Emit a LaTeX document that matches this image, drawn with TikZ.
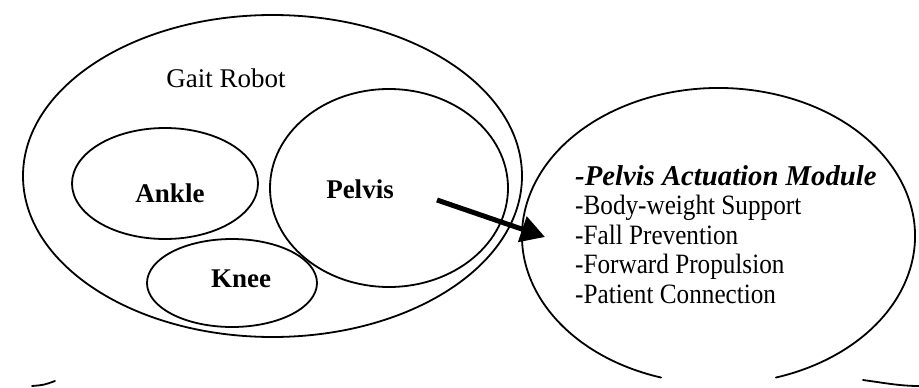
\documentclass[tikz,border=0pt]{standalone}
\usepackage{fontspec}
\setmainfont{Liberation Serif}
\newfontfamily\listfont[FakeStretch=0.9]{Liberation Serif}
\usetikzlibrary{shapes.geometric,arrows.meta}
\begin{document}
\begin{tikzpicture}[x=1pt,y=-1pt,
  ell/.style={draw, ellipse, line width=1.8pt, inner sep=0pt, outer sep=0pt},
  stroke/.style={line width=1.8pt, line cap=round},
  txt/.style={inner sep=0pt, anchor=base, font=\fontsize{27}{28}\selectfont},
  bld/.style={inner sep=0pt, anchor=base, font=\fontsize{27}{28}\selectfont\bfseries},
  item/.style={inner sep=0pt, anchor=base west, font=\listfont\fontsize{28}{29}\selectfont},
  bigarrow/.style={line width=5pt, -{Triangle[length=24pt,width=26pt]}}]
\useasboundingbox (0,0) rectangle (919,388);
\fill[white] (0,0) rectangle (919,388);

% ellipses of the gait robot
\node[ell, minimum width=499pt, minimum height=322pt] (gait) at (272.5,176) {};
\node[ell, minimum width=238pt, minimum height=198pt] (pelvis) at (389,188) {};
\node[ell, minimum width=186pt, minimum height=111pt] (ankle) at (165,183.5) {};
\node[ell, minimum width=170pt, minimum height=88pt] (knee) at (232,283) {};

% labels
\node[txt] (tgait) at (226,87) {Gait Robot};
\node[bld] (tankle) at (170,202) {Ankle};
\node[bld] (tpelvis) at (360,198) {Pelvis};
\node[bld] (tknee) at (241,287) {Knee};

% open bubble on the right
\node[draw=none, ellipse, inner sep=0pt, minimum width=393pt, minimum height=296pt] (bubble) at (718.5,236) {};
\draw[stroke] ([shift={(107:196.5 and 148)}]bubble.center) arc[start angle=107, end angle=433, x radius=196.5, y radius=148];

% list
\node[item, font=\fontsize{28.7}{29}\selectfont\bfseries\itshape] (l1) at (575,185) {-Pelvis Actuation Module};
\node[item] (l2) at (575,214.5) {-Body-weight Support};
\node[item] (l3) at (575,244) {-Fall Prevention};
\node[item] (l4) at (575,273.5) {-Forward Propulsion};
\node[item] (l5) at (575,303) {-Patient Connection};

% arrow
\coordinate (astart) at (437,200);
\coordinate (atip) at (545,237);
\draw[bigarrow] (astart) -- (atip);

% bottom fragments
\coordinate (f1a) at (32,386);
\coordinate (f1b) at (55,381);
\draw[stroke] (f1a) .. controls (44,385) .. (f1b);
\coordinate (f2a) at (863,380);
\coordinate (f2b) at (919,386);
\draw[stroke] (f2a) .. controls (885,383) and (900,386) .. (f2b);
\end{tikzpicture}
\end{document}
